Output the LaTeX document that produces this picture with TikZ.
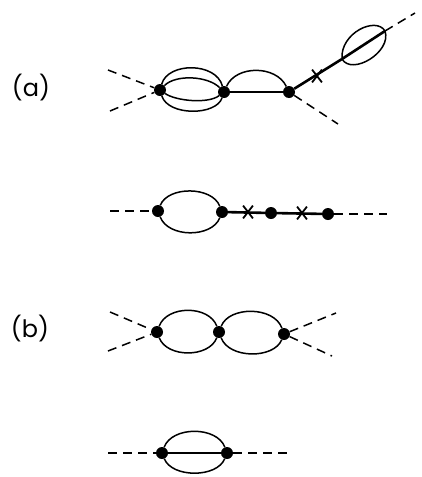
\documentclass[tikz,border=0pt]{standalone}
\usepackage{fontspec}
\setmainfont{Poppins}
\usetikzlibrary{shapes.misc}
\tikzset{
  vertexdot/.style={circle,fill=black,inner sep=0pt,minimum size=12pt},
  prop/.style={line width=1.5pt},
  thickprop/.style={line width=2.6pt},
  scalar/.style={line width=1.5pt,dash pattern=on 9pt off 6pt},
  crossmark/.style={cross out,draw,line width=1.8pt,inner sep=0pt,minimum width=8pt,minimum height=11pt},
  partlabel/.style={inner sep=0pt,font=\fontsize{24}{24}\selectfont}
}
\begin{document}
\begin{tikzpicture}[x=1pt,y=-1pt]
  \useasboundingbox (0,0) rectangle (421,477);
  % (a) upper graph
  \node[partlabel] (labela) at (31,88) {(a)};
  \node[vertexdot] (a1) at (160,90) {};
  \node[vertexdot] (a2) at (224,92) {};
  \node[vertexdot] (a3) at (289,92) {};
  \coordinate (ain1) at (108,70);
  \coordinate (ain2) at (110,111);
  \coordinate (aout1) at (338,124);
  \coordinate (bl1) at (342,59);
  \coordinate (bl2) at (385,31);
  \coordinate (aout2) at (415,13);
  \draw[scalar] (ain1) -- (a1);
  \draw[scalar] (ain2) -- (a1);
  \draw[scalar] (a3) -- (aout1);
  \draw[scalar] (bl2) -- (aout2);
  \draw[prop] (a1) .. controls (168,62) and (216,62) .. (a2);
  \draw[prop] (a1) .. controls (168,116) and (216,116) .. (a2);
  \draw[prop] (a1) .. controls (176,74) and (208,76) .. (a2);
  \draw[prop] (a1) .. controls (176,101) and (208,104) .. (a2);
  \draw[prop] (a2) .. controls (236,65) and (276,65) .. (a3);
  \draw[thickprop] (a2) -- (a3);
  \draw[thickprop] (a3) -- (bl1);
  \draw[thickprop] (bl1) -- (bl2);
  \draw[prop] (bl1) .. controls (340,33) and (376,16) .. (bl2);
  \draw[prop] (bl1) .. controls (352,76) and (392,52) .. (bl2);
  \node[crossmark] (acr) at (317,76) {};
  % (a) lower graph
  \node[vertexdot] (c1) at (158,211) {};
  \node[vertexdot] (c2) at (222,212) {};
  \node[vertexdot] (c3) at (271,213) {};
  \node[vertexdot] (c4) at (328,214) {};
  \coordinate (cin) at (110,211);
  \coordinate (cout) at (387,214);
  \draw[scalar] (cin) -- (c1);
  \draw[scalar] (c4) -- (cout);
  \draw[prop] (c1) .. controls (168,186) and (212,186) .. (c2);
  \draw[prop] (c1) .. controls (168,238) and (212,238) .. (c2);
  \draw[thickprop] (c2) -- (c3);
  \draw[thickprop] (c3) -- (c4);
  \node[crossmark] (ccr1) at (248,212) {};
  \node[crossmark] (ccr2) at (302,213) {};
  % (b) upper graph
  \node[partlabel] (labelb) at (30,329) {(b)};
  \node[vertexdot] (d1) at (157,332) {};
  \node[vertexdot] (d2) at (219,332) {};
  \node[vertexdot] (d3) at (284,334) {};
  \coordinate (din1) at (110,312);
  \coordinate (din2) at (108,351);
  \coordinate (dout1) at (336,313);
  \coordinate (dout2) at (332,356);
  \draw[scalar] (din1) -- (d1);
  \draw[scalar] (din2) -- (d1);
  \draw[scalar] (d3) -- (dout1);
  \draw[scalar] (d3) -- (dout2);
  \draw[prop] (d1) .. controls (167,305) and (209,305) .. (d2);
  \draw[prop] (d1) .. controls (167,358) and (209,358) .. (d2);
  \draw[prop] (d2) .. controls (229,306) and (274,306) .. (d3);
  \draw[prop] (d2) .. controls (229,359) and (274,359) .. (d3);
  % (b) lower graph
  \node[vertexdot] (e1) at (162,453) {};
  \node[vertexdot] (e2) at (227,453) {};
  \coordinate (ein) at (108,453);
  \coordinate (eout) at (290,453);
  \draw[scalar] (ein) -- (e1);
  \draw[scalar] (e2) -- (eout);
  \draw[prop] (e1) .. controls (172,426) and (217,426) .. (e2);
  \draw[prop] (e1) .. controls (172,478) and (217,478) .. (e2);
  \draw[prop] (e1) -- (e2);
\end{tikzpicture}
\end{document}
